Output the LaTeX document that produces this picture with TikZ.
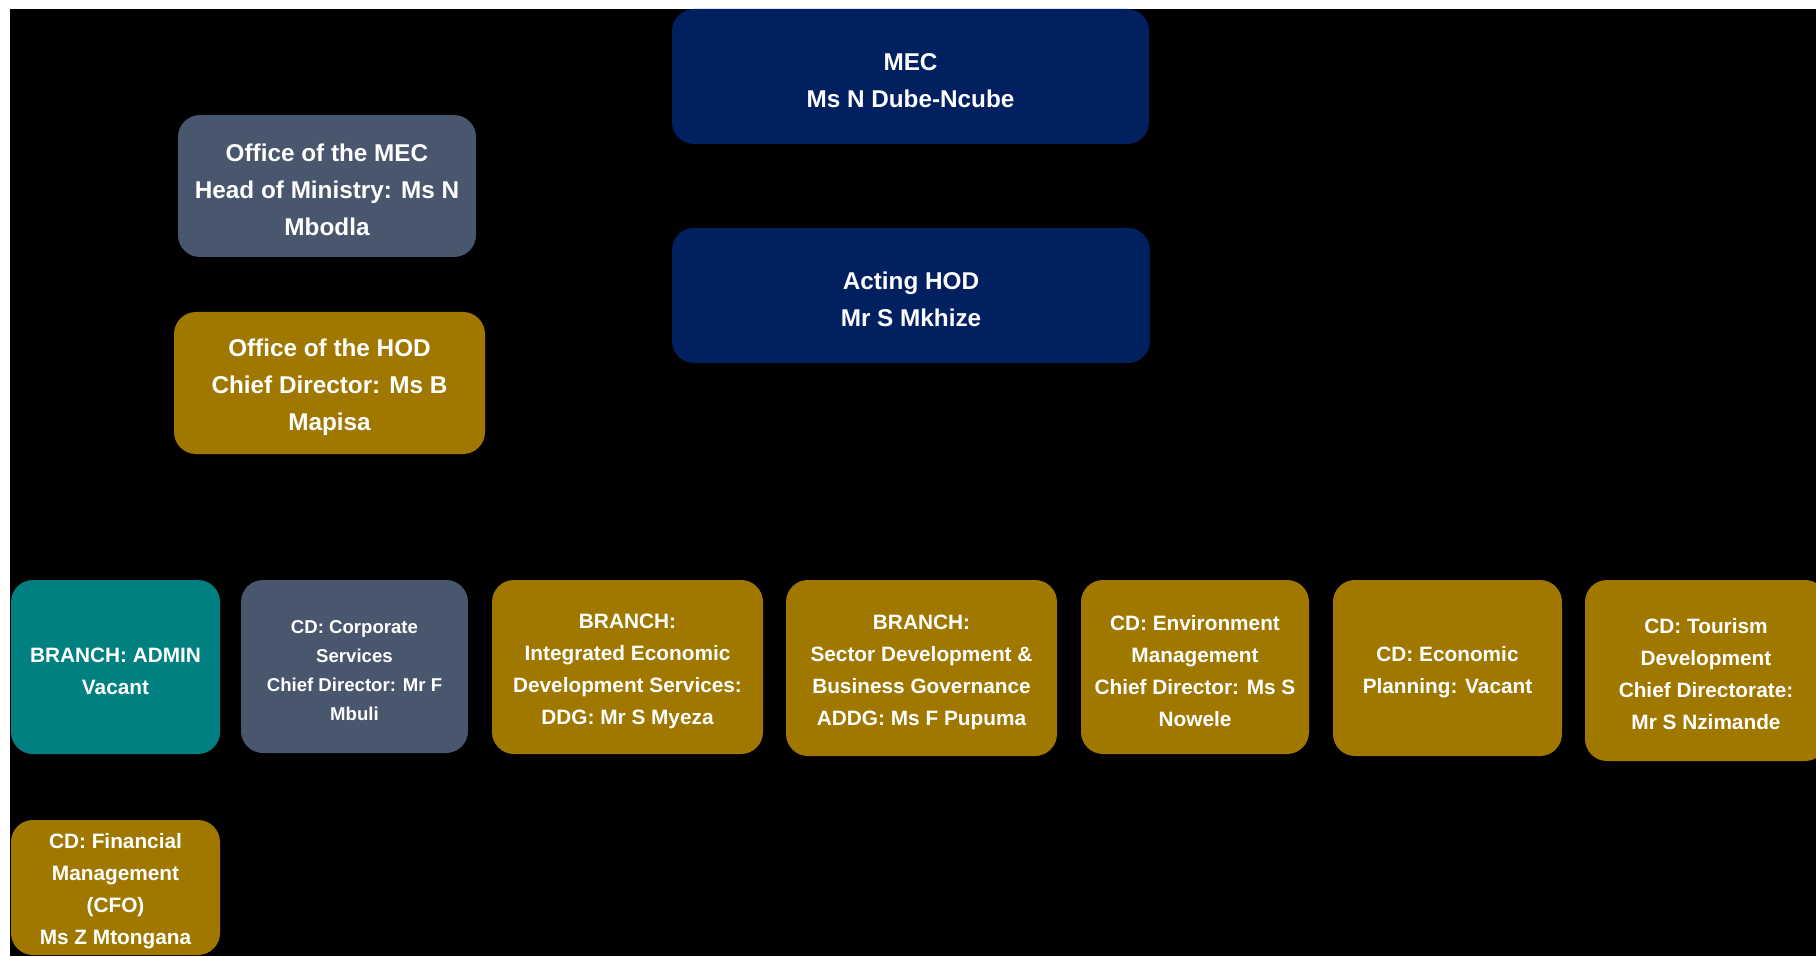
\documentclass[tikz,border=0pt]{standalone}
\usepackage{fontspec}
\setmainfont{Liberation Sans}
\definecolor{navy}{RGB}{0,32,96}
\definecolor{slate}{RGB}{72,87,110}
\definecolor{gold}{RGB}{160,120,0}
\definecolor{teal}{RGB}{0,128,128}
\tikzset{
  unitbox/.style={rounded corners=11pt, inner sep=0pt, outer sep=0pt},
  boxtext/.style={align=center, text=white, yshift=-2pt, inner sep=0pt,
    font=\bfseries\fontsize{10.4}{16}\selectfont},
  toptext/.style={boxtext, font=\bfseries\fontsize{12.15}{18.5}\selectfont},
  smalltext/.style={boxtext, font=\bfseries\fontsize{9.3}{14.5}\selectfont},
}
\begin{document}
\begin{tikzpicture}[x=0.5pt,y=-0.5pt]
\useasboundingbox (0,0) rectangle (1816,957);
\fill[white] (0,0) rectangle (1816,957);
\fill[black] (10,9) rectangle (1816,956);
% top of the chart
\node[unitbox, fill=navy, minimum width=238.5pt, minimum height=67.5pt,
  label={[toptext]center:{MEC\\Ms N Dube-Ncube}}] (mec) at (910.5,76.5) {};
\node[unitbox, fill=navy, minimum width=239pt, minimum height=67.5pt,
  label={[toptext]center:{Acting HOD\\Mr S Mkhize}}] (hod) at (911,295.5) {};
\node[unitbox, fill=slate, minimum width=149pt, minimum height=71pt,
  label={[toptext]center:{Office of the MEC\\Head of Ministry: Ms N\\Mbodla}}] (omec) at (327,186) {};
\node[unitbox, fill=gold, minimum width=155.5pt, minimum height=71pt,
  label={[toptext]center:{Office of the HOD\\Chief Director: Ms B\\Mapisa}}] (ohod) at (329.5,383) {};
% branches
\node[unitbox, fill=teal, minimum width=104.5pt, minimum height=87pt,
  label={[boxtext]center:{BRANCH: ADMIN\\Vacant}}] (admin) at (115.5,667) {};
\node[unitbox, fill=slate, minimum width=113.5pt, minimum height=86.5pt,
  label={[smalltext]center:{CD: Corporate\\Services\\Chief Director: Mr F\\Mbuli}}] (corp) at (354.5,666.5) {};
\node[unitbox, fill=gold, minimum width=135.5pt, minimum height=87pt,
  label={[boxtext]center:{BRANCH:\\Integrated Economic\\Development Services:\\DDG: Mr S Myeza}}] (ieds) at (627.5,667) {};
\node[unitbox, fill=gold, minimum width=135.5pt, minimum height=88pt,
  label={[boxtext]center:{BRANCH:\\Sector Development \&\\Business Governance\\ADDG: Ms F Pupuma}}] (sdbg) at (921.5,668) {};
\node[unitbox, fill=gold, minimum width=114pt, minimum height=87pt,
  label={[boxtext]center:{CD: Environment\\Management\\Chief Director: Ms S\\Nowele}}] (env) at (1195,667) {};
\node[unitbox, fill=gold, minimum width=114.5pt, minimum height=88pt,
  label={[boxtext]center:{CD: Economic\\Planning: Vacant}}] (econ) at (1447.5,668) {};
\node[unitbox, fill=gold, minimum width=121pt, minimum height=90.5pt,
  label={[boxtext]center:{CD: Tourism\\Development\\Chief Directorate:\\Mr S Nzimande}}] (tour) at (1706,670.5) {};
\node[unitbox, fill=gold, minimum width=104.5pt, minimum height=67.5pt,
  label={[boxtext]center:{CD: Financial\\Management\\(CFO)\\Ms Z Mtongana}}] (cfo) at (115.5,887.5) {};
\end{tikzpicture}
\end{document}
